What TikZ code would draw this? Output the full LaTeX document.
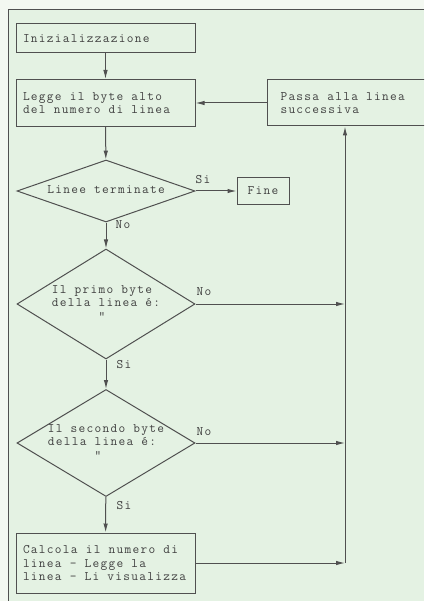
\documentclass[tikz,border=0pt]{standalone}
\usepackage{fontspec}
\setmonofont{Latin Modern Mono}[LetterSpace=10]
\usepackage{tikz}
\usetikzlibrary{arrows.meta, positioning, shapes.geometric}

\definecolor{ink}{HTML}{505050}
\definecolor{txt}{HTML}{404040}
\definecolor{paper}{HTML}{E4F2E3}
\definecolor{margin}{HTML}{F3F8F1}

\newcommand{\flowfont}{\fontsize{13}{13.5}\selectfont\ttfamily\spaceskip=8.1pt\relax}
\newcommand{\dtext}[1]{\makebox[0pt]{\raisebox{-3pt}[0pt][0pt]{\begin{tabular}{@{}l@{}}#1\end{tabular}}}}

\begin{document}
\begin{tikzpicture}[
  x=1pt, y=-1pt,
  box/.style={draw=ink, rectangle, align=flush left, text width=165pt, inner xsep=7pt, inner ysep=0pt, font=\flowfont, text=txt},
  endbox/.style={draw=ink, rectangle, minimum width=52pt, minimum height=27pt, font=\flowfont, text=txt},
  decision/.style={draw=ink, diamond, inner sep=0pt, minimum width=178pt, font=\flowfont, text=txt},
  edge/.style={-{Latex[length=9pt,width=4.5pt]}, draw=ink},
  tag/.style={font=\flowfont, text=txt, inner sep=0pt},
  line width=1pt
]
\useasboundingbox (0,0) rectangle (424,601);
\clip (0,0) rectangle (424,601);
\fill[margin] (0,0) rectangle (424,601);
\fill[paper] (8,10) rectangle (424,601);
\draw[ink] (424,10) -- (8,10) -- (8,601);

\node[box, minimum height=29pt] (init) at (105.5,38.5) {Inizializzazione};
\node[box, minimum height=47pt] (read) at (105.5,103) {Legge il byte alto\\del numero di linea};
\node[box, anchor=west, text width=154pt, inner xsep=13pt, minimum height=46pt] (next) at (267,103) {Passa alla linea\\successiva};
\node[decision, minimum height=62pt] (last) at (106,191) {\dtext{Linee terminate}};
\node[endbox] (fine) at (263,191) {Fine};
\node[decision, minimum height=110pt] (first) at (106,304) {\dtext{Il primo byte\\della linea é:\\\phantom{xxxxxx}"}};
\node[decision, minimum height=107pt] (second) at (106,443) {\dtext{Il secondo byte\\della linea é:\\\phantom{xxxxxx}"}};
\node[box, minimum height=60pt] (show) at (105.5,563) {Calcola il numero di\\linea - Legge la\\linea~-~Li~visualizza};

\node[tag] (si1) at (203,180) {Si};
\node[tag] (no1) at (123,225) {No};
\node[tag] (no2) at (204,292) {No};
\node[tag] (si2) at (124,365) {Si};
\node[tag] (no3) at (204,432) {No};
\node[tag] (si3) at (124,506) {Si};

\coordinate (j1) at (345,304);
\coordinate (j2) at (345,443);
\coordinate (j3) at (345,563);

\draw[edge] (init) -- (read);
\draw[edge] (next) -- (read);
\draw[edge] (read) -- (last);
\draw[edge] (last) -- (fine);
\draw[edge] (last) -- (first);
\draw[edge] (first) -- (second);
\draw[edge] (second) -- (show);
\draw[edge] (first) -- (j1);
\draw[edge] (second) -- (j2);
\draw[edge] (show) -- (j3);
\draw[edge] (j3) -- (j3 |- next.south);
\end{tikzpicture}
\end{document}
